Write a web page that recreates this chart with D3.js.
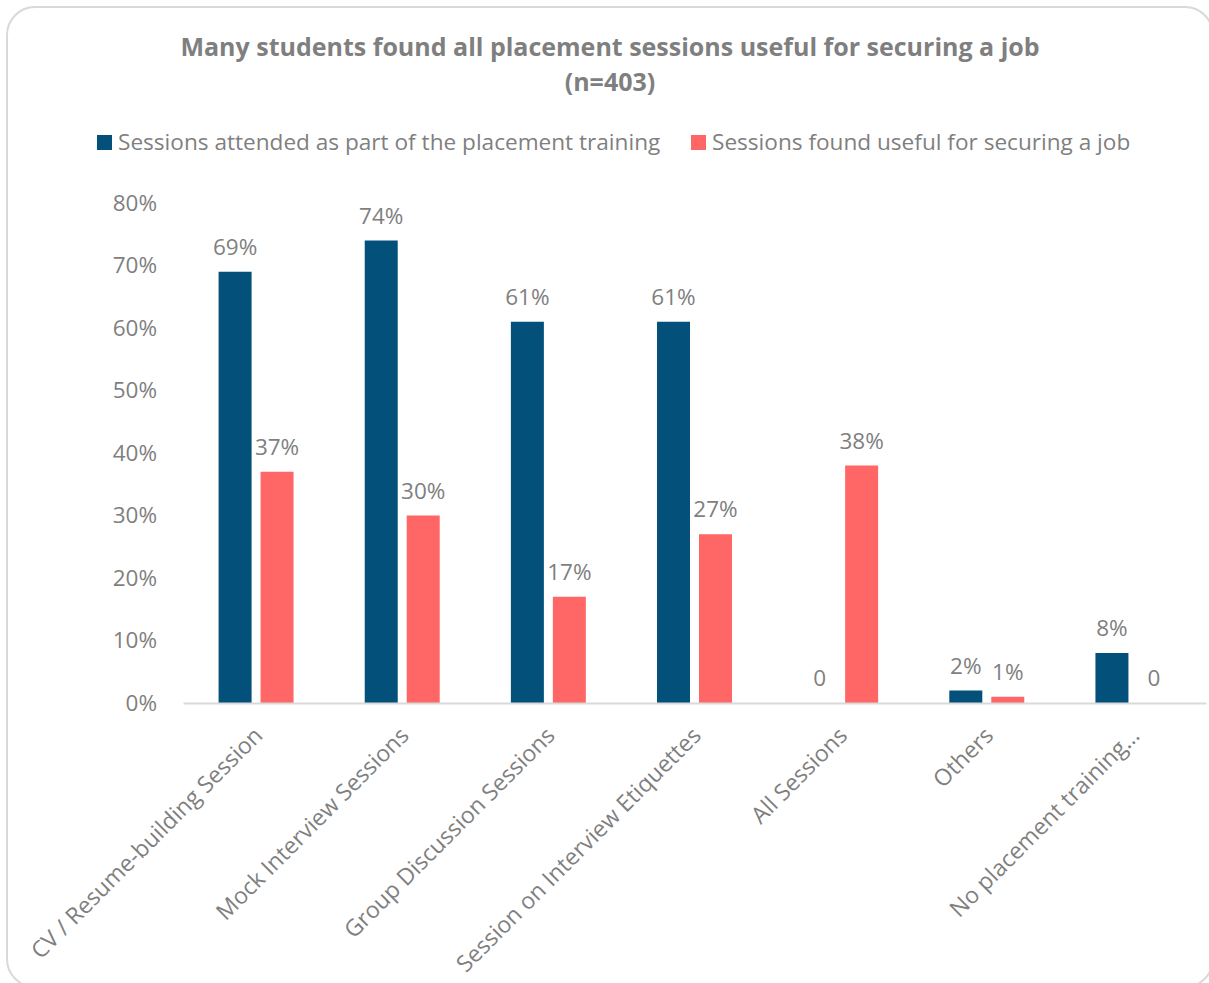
<!DOCTYPE html>
<html>
<head>
<meta charset="utf-8">
<script src="https://cdn.jsdelivr.net/npm/d3@7"></script>
<style>
  html, body { margin: 0; padding: 0; background: #fff; }
  svg { display: block; font-family: "Open Sans", "Noto Sans", sans-serif; }
</style>
</head>
<body>
<svg id="chart" width="1209" height="983"></svg>
<script>
// Placement-training sessions: attended vs. found useful (share of respondents, %)
const categories = [
  "CV / Resume-building Session",
  "Mock Interview Sessions",
  "Group Discussion Sessions",
  "Session on Interview Etiquettes",
  "All Sessions",
  "Others",
  "No placement training\u2026"
];
const seriesNames = [
  "Sessions attended as part of the placement training",
  "Sessions found useful for securing a job"
];
const attended = [69, 74, 61, 61, 0, 2, 8];
const useful = [37, 30, 17, 27, 38, 1, 0];
const yTicks = [0, 10, 20, 30, 40, 50, 60, 70, 80];
const titleLines = ["Many students found all placement sessions useful for securing a job", "(n=403)"];

const colors = ["#03507a", "#ff6766"];
const textColor = "#7f7f7f";
const fontFamily = "\"Open Sans\", \"Noto Sans\", sans-serif";

const svg = d3.select("#chart");

// card frame
svg.append("rect")
  .attr("x", 7).attr("y", 7)
  .attr("width", 1206).attr("height", 980)
  .attr("rx", 28).attr("ry", 28)
  .attr("fill", "#fff")
  .attr("stroke", "#d9d9d9")
  .attr("stroke-width", 2);

// title
svg.append("g").selectAll("text")
  .data(titleLines)
  .join("text")
  .attr("x", 610)
  .attr("y", (d, i) => 56 + i * 35)
  .attr("text-anchor", "middle")
  .attr("font-size", 25)
  .attr("font-weight", "bold")
  .attr("fill", textColor)
  .text(d => d);

// scales
const margin = { left: 183, right: 1206, top: 203, bottom: 703 };
const x0 = d3.scaleBand()
  .domain(categories)
  .range([margin.left, margin.right])
  .paddingInner(0.487)
  .paddingOuter(0.2435);
const x1 = d3.scaleBand()
  .domain(seriesNames)
  .range([0, x0.bandwidth()])
  .paddingInner(0.214);
const y = d3.scaleLinear()
  .domain([0, 80])
  .range([margin.bottom, margin.top]);

// legend
const legendX = [97, 691];
const legend = svg.append("g").selectAll("g")
  .data(seriesNames)
  .join("g")
  .attr("transform", (d, i) => `translate(${legendX[i]},142)`);
legend.append("rect")
  .attr("x", 0).attr("y", -7)
  .attr("width", 15).attr("height", 15)
  .attr("fill", (d, i) => colors[i]);
legend.append("text")
  .attr("x", 21).attr("y", 0)
  .attr("dy", "0.35em")
  .attr("font-size", 22.6)
  .attr("fill", textColor)
  .text(d => d);

// y axis (labels only)
const yAxis = svg.append("g")
  .attr("transform", `translate(${margin.left},0)`)
  .call(d3.axisLeft(y).tickValues(yTicks).tickSize(0).tickPadding(26).tickFormat(d => d + "%"));
yAxis.select(".domain").remove();
yAxis.selectAll("text")
  .attr("font-size", 22.5)
  .attr("font-family", fontFamily)
  .attr("fill", textColor);

// bars
const rows = categories.map((c, i) => ({ cat: c, vals: [attended[i], useful[i]] }));
const groups = svg.append("g").selectAll("g")
  .data(rows)
  .join("g")
  .attr("transform", d => `translate(${x0(d.cat)},0)`);

groups.selectAll("rect")
  .data(d => d.vals.map((v, j) => ({ s: seriesNames[j], v, j })))
  .join("rect")
  .attr("x", d => x1(d.s))
  .attr("y", d => y(d.v))
  .attr("width", x1.bandwidth())
  .attr("height", d => y(0) - y(d.v))
  .attr("fill", d => colors[d.j]);

// data labels
groups.selectAll("text")
  .data(d => d.vals.map((v, j) => ({ s: seriesNames[j], v, j })))
  .join("text")
  .attr("x", d => x1(d.s) + x1.bandwidth() / 2)
  .attr("y", d => y(d.v) - 17)
  .attr("text-anchor", "middle")
  .attr("font-size", 22.5)
  .attr("fill", textColor)
  .text(d => d.v === 0 ? "0" : d.v + "%");

// x axis baseline and rotated category labels
const xAxis = svg.append("g")
  .attr("transform", `translate(0,${margin.bottom})`)
  .call(d3.axisBottom(x0).tickSize(0).tickPadding(0));
xAxis.select(".domain")
  .attr("stroke", "#d9d9d9")
  .attr("stroke-width", 2);
xAxis.selectAll(".tick text")
  .attr("font-size", 23)
  .attr("font-family", fontFamily)
  .attr("fill", textColor)
  .attr("text-anchor", "end")
  .attr("dy", 0)
  .attr("transform", "translate(8,34) rotate(-45)");
</script>
</body>
</html>
